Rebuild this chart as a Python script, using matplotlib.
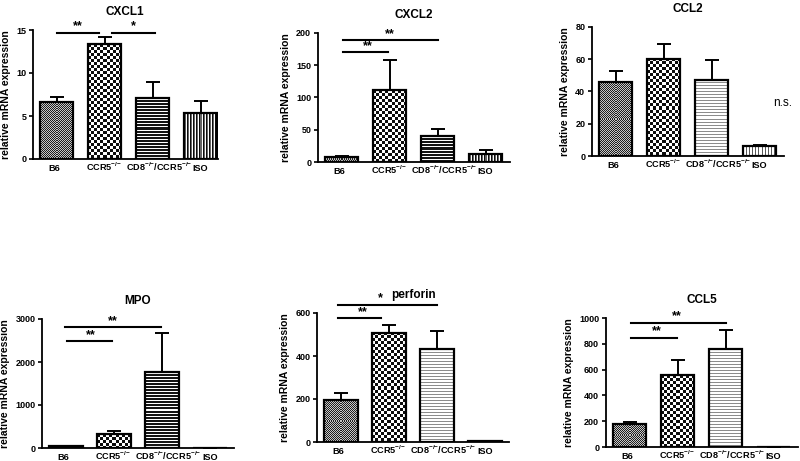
import numpy as np
import matplotlib
matplotlib.use("Agg")
import matplotlib.pyplot as plt
from matplotlib.transforms import offset_copy

plt.rcParams['font.family'] = ['Liberation Sans', 'DejaVu Sans']
plt.rcParams['mathtext.fontset'] = 'custom'
plt.rcParams['mathtext.rm'] = 'Liberation Sans:bold'
plt.rcParams['mathtext.bf'] = 'Liberation Sans:bold'
plt.rcParams['mathtext.it'] = 'Liberation Sans:bold'
plt.rcParams['mathtext.default'] = 'rm'

# ---------------- data ----------------
groups = ['B6', 'CCR5$^{{-}/{-}}$', 'CD8$^{{-}/{-}}$/CCR5$^{{-}/{-}}$', 'ISO']

cxcl1_mean = [6.6, 13.35, 7.1, 5.3]
cxcl1_sem = [0.6, 0.85, 1.85, 1.45]
cxcl1_ticks = [0, 5, 10, 15]

cxcl2_mean = [7.8, 111, 40.8, 12.9]
cxcl2_sem = [2.0, 46.5, 10.4, 5.1]
cxcl2_ticks = [0, 50, 100, 150, 200]

ccl2_mean = [45.9, 60.2, 47.3, 5.9]
ccl2_sem = [6.6, 9.4, 12.2, 0.7]
ccl2_ticks = [0, 20, 40, 60, 80]

mpo_mean = [35, 315, 1775, 3]
mpo_sem = [15, 80, 905, 0]
mpo_ticks = [0, 1000, 2000, 3000]

perforin_mean = [196, 508, 432, 5]
perforin_sem = [30, 37, 84, 1]
perforin_ticks = [0, 200, 400, 600]

ccl5_mean = [181, 556, 757, 3]
ccl5_sem = [14, 117, 148, 0]
ccl5_ticks = [0, 200, 400, 600, 800, 1000]

# significance: (from, to, level, label, label x)
cxcl1_sig = [(0.0, 0.88, 14.7, '**', 0.44), (1.15, 2.05, 14.7, '*', 1.6)]
cxcl2_sig = [(0.03, 0.97, 170, '**', 0.55), (0.03, 2.02, 189, '**', 1.0)]
ccl2_sig = []
mpo_sig = [(0.03, 0.95, 2487, '**', 0.52), (-0.02, 1.97, 2821, '**', 0.98)]
perforin_sig = [(-0.07, 0.83, 578, '**', 0.45), (-0.07, 1.99, 639, '*', 0.83)]
ccl5_sig = [(0.04, 0.98, 848, '**', 0.57), (0.04, 2.02, 964, '**', 0.98)]

W, H = 800, 461
fig = plt.figure(figsize=(W / 100, H / 100), dpi=100)

PX_PER_UNIT = 48.0
LABEL_SHIFT = [-0.05, -0.02, 0.13, 0.0]   # horizontal nudges of category labels


def pattern(kind, w, h):
    yy, xx = np.mgrid[0:h, 0:w]
    if kind == 'fine':
        a = np.where((xx + yy) % 2 == 0, 0.12, 0.78)
    elif kind == 'checker':
        a = np.where(((xx // 3) + (yy // 3)) % 2 == 0, 0.05, 1.0)
    elif kind == 'hdark':
        a = np.where(yy % 3 == 2, 1.0, 0.08)
    elif kind == 'hlight':
        a = np.where(yy % 3 == 0, 0.55, 1.0)
    elif kind == 'vdark':
        a = np.choose(xx % 3, [0.05, 0.4, 1.0])
    else:  # vlight
        a = np.where(xx % 3 == 0, 0.35, 1.0)
    return a.astype(float)


def add_pattern(ax, bar, kind):
    x0 = bar.get_x()
    x1 = x0 + bar.get_width()
    y0 = bar.get_y()
    y1 = y0 + bar.get_height()
    if y1 <= y0:
        return
    (px0, py0), (px1, py1) = ax.transData.transform([(x0, y0), (x1, y1)])
    w = max(int(round(px1 - px0)), 1)
    h = max(int(round(py1 - py0)), 1)
    arr = pattern(kind, w, h)
    im = ax.imshow(arr, extent=(x0, x1, y0, y1), cmap='gray', vmin=0, vmax=1,
                   interpolation='nearest', aspect='auto', zorder=2)
    im.set_clip_path(bar)


def panel(left_px, top_px, xmax, title, means, sems, ticks, sig, kinds):
    height_px = 129
    width_px = (xmax + 0.5) * PX_PER_UNIT
    ax = fig.add_axes([left_px / W, 1 - (top_px + height_px) / H,
                       width_px / W, height_px / H])
    x = np.arange(len(groups))
    ax.set_xlim(-0.5, xmax)
    ax.set_ylim(ticks[0], ticks[-1])
    bars = ax.bar(x, means, width=0.69, facecolor='none', edgecolor='black',
                  linewidth=1.6, zorder=3)
    for b, k in zip(bars, kinds):
        add_pattern(ax, b, k)
    ax.errorbar(x, means, yerr=[np.zeros(len(means)), sems], fmt='none',
                ecolor='black', elinewidth=1.4, capsize=5, capthick=1.4, zorder=4)
    ax.set_xlim(-0.5, xmax)
    ax.set_ylim(ticks[0], ticks[-1])
    ax.set_yticks(ticks)
    ax.set_xticks(x)
    ax.set_xticklabels([])
    lab_tr = offset_copy(ax.get_xaxis_transform(), fig=fig, y=-8.6, units='points')
    for xi, g, dx in zip(x, groups, LABEL_SHIFT):
        ax.text(xi + dx, 0, g, transform=lab_tr, ha='center', va='baseline',
                fontsize=6.6, fontweight='bold', clip_on=False)
    for lab in ax.get_yticklabels():
        lab.set_fontweight('bold')
        lab.set_fontsize(6.5)
    ax.tick_params(axis='x', length=0)
    ax.tick_params(axis='y', length=3, width=1.2, pad=1.5)
    for s in ['top', 'right']:
        ax.spines[s].set_visible(False)
    for s in ['left', 'bottom']:
        ax.spines[s].set_linewidth(1.3)
    ax.set_ylabel('relative mRNA expression', fontsize=7.5, fontweight='bold')
    ax.set_title(title, fontsize=8.5, fontweight='bold', pad=11)
    for (a, b, yv, lab, lx) in sig:
        ax.plot([a, b], [yv, yv], color='black', lw=1.5, clip_on=False, zorder=5)
        ax.text(lx, yv, lab, ha='center', va='bottom', fontsize=9,
                fontweight='bold', clip_on=False)
    return ax


dark = ['fine', 'checker', 'hdark', 'vdark']
light = ['fine', 'checker', 'hlight', 'vlight']

panel(32.5, 30, 3.36, 'CXCL1', cxcl1_mean, cxcl1_sem, cxcl1_ticks, cxcl1_sig, dark)
panel(317.5, 33, 3.5, 'CXCL2', cxcl2_mean, cxcl2_sem, cxcl2_ticks, cxcl2_sig, dark)
ax3 = panel(591.5, 27, 3.5, 'CCL2', ccl2_mean, ccl2_sem, ccl2_ticks, ccl2_sig, light)
ax3.text(3.49, 33, 'n.s.', ha='center', va='center', fontsize=8.5, clip_on=False)
panel(42, 319, 3.5, 'MPO', mpo_mean, mpo_sem, mpo_ticks, mpo_sig, dark)
panel(317, 313, 3.5, 'perforin', perforin_mean, perforin_sem, perforin_ticks, perforin_sig, light)
panel(605.5, 318, 3.5, 'CCL5', ccl5_mean, ccl5_sem, ccl5_ticks, ccl5_sig, light)

fig.savefig('out.png', dpi=100)
